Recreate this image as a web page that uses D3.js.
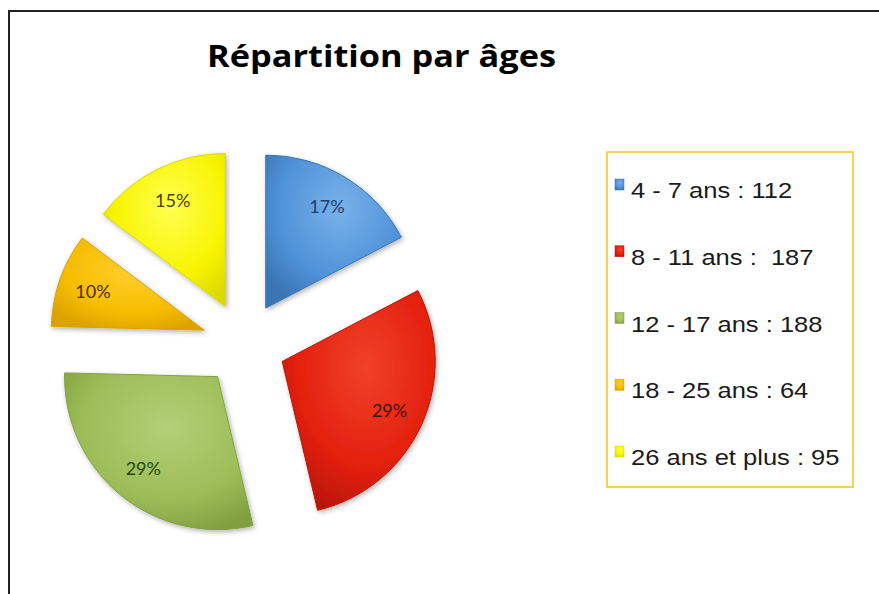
<!DOCTYPE html>
<html>
<head>
<meta charset="utf-8">
<script src="https://cdn.jsdelivr.net/npm/d3@7"></script>
<style>
  body { margin: 0; background: #fff; }
  svg { display: block; }
</style>
</head>
<body>
<div id="chart"></div>
<script>
// data
const categories = ["4 - 7 ans", "8 - 11 ans", "12 - 17 ans", "18 - 25 ans", "26 ans et plus"];
const counts = [112, 187, 188, 64, 95];
const legendLabels = ["4 - 7 ans : 112", "8 - 11 ans :  187", "12 - 17 ans : 188", "18 - 25 ans : 64", "26 ans et plus : 95"];
const colors = ["#4f92d8", "#e3200d", "#9cbd57", "#f7bd00", "#f8f400"];
const lightColors = ["#78b2ea", "#f0412a", "#b2d078", "#ffd02e", "#ffff50"];
const darkColors = ["#3a74b4", "#b81606", "#80a040", "#dba200", "#dcd800"];
const labelColors = ["#1d3d70", "#3a1400", "#27470f", "#4a2e00", "#4a4200"];

const width = 879, height = 594;
const cx = 244, cy = 344, radius = 153, explode = 42;

const svg = d3.select("#chart")
    .append("svg")
    .attr("width", width)
    .attr("height", height);

const defs = svg.append("defs");

const shadow = defs.append("filter")
    .attr("id", "shadow")
    .attr("x", "-20%").attr("y", "-20%")
    .attr("width", "140%").attr("height", "140%");
shadow.append("feDropShadow")
    .attr("dx", 1.5).attr("dy", 2)
    .attr("stdDeviation", 2.5)
    .attr("flood-color", "#000")
    .attr("flood-opacity", 0.3);

colors.forEach(function (c, i) {
    const g = defs.append("radialGradient")
        .attr("id", "grad" + i)
        .attr("cx", "55%").attr("cy", "35%")
        .attr("r", "70%");
    g.append("stop").attr("offset", "0%").attr("stop-color", lightColors[i]);
    g.append("stop").attr("offset", "65%").attr("stop-color", c);
    g.append("stop").attr("offset", "100%").attr("stop-color", darkColors[i]);
});

// frame
svg.append("rect")
    .attr("x", 9)
    .attr("y", 11)
    .attr("width", 900)
    .attr("height", 620)
    .attr("fill", "none")
    .attr("stroke", "#222")
    .attr("stroke-width", 2);

// title
svg.append("text")
    .attr("x", 207)
    .attr("y", 67)
    .attr("font-family", "'Open Sans', Lato, sans-serif")
    .attr("font-weight", "bold")
    .attr("font-size", 30)
    .attr("textLength", 349)
    .attr("lengthAdjust", "spacingAndGlyphs")
    .attr("fill", "#000")
    .text("Répartition par âges");

const pie = d3.pie().sort(null).value(d => d);
const arcs = pie(counts);

const arc = d3.arc().innerRadius(0).outerRadius(radius);
const labelArc = d3.arc().innerRadius(118).outerRadius(118);

const total = d3.sum(counts);

const slices = svg.append("g")
    .attr("transform", `translate(${cx},${cy})`)
    .selectAll("g")
    .data(arcs)
    .enter().append("g")
    .attr("transform", function (d) {
        const mid = (d.startAngle + d.endAngle) / 2;
        return `translate(${explode * Math.sin(mid)},${-explode * Math.cos(mid)})`;
    });

slices.append("path")
    .attr("d", arc)
    .attr("fill", (d, i) => `url(#grad${i})`)
    .attr("stroke", (d, i) => darkColors[i])
    .attr("stroke-width", 1)
    .attr("filter", "url(#shadow)");

slices.append("text")
    .attr("transform", d => `translate(${labelArc.centroid(d)})`)
    .attr("text-anchor", "middle")
    .attr("dy", "0.35em")
    .attr("font-family", "Lato, 'Open Sans', sans-serif")
    .attr("font-size", 18)
    .attr("fill", (d, i) => labelColors[i])
    .text(d => Math.round(d.value / total * 100) + "%");

// legend
svg.append("rect")
    .attr("x", 607)
    .attr("y", 152)
    .attr("width", 246)
    .attr("height", 335)
    .attr("fill", "#fff")
    .attr("stroke", "#f5c518")
    .attr("stroke-width", 1.5);

const legendY = d3.scalePoint()
    .domain(categories)
    .range([198, 465]);

const legend = svg.append("g")
    .selectAll("g")
    .data(categories)
    .enter().append("g")
    .attr("transform", d => `translate(0,${legendY(d)})`);

legend.append("rect")
    .attr("x", 615)
    .attr("y", -19)
    .attr("width", 9)
    .attr("height", 11)
    .attr("fill", (d, i) => `url(#grad${i})`)
    .attr("stroke", (d, i) => darkColors[i])
    .attr("stroke-width", 0.5);

legend.append("text")
    .attr("transform", "translate(631,0) scale(1.16,1)")
    .attr("font-family", "'Liberation Sans', Arial, sans-serif")
    .attr("font-size", 22)
    .attr("fill", "#1a1a1a")
    .style("white-space", "pre")
    .text((d, i) => legendLabels[i]);
</script>
</body>
</html>
